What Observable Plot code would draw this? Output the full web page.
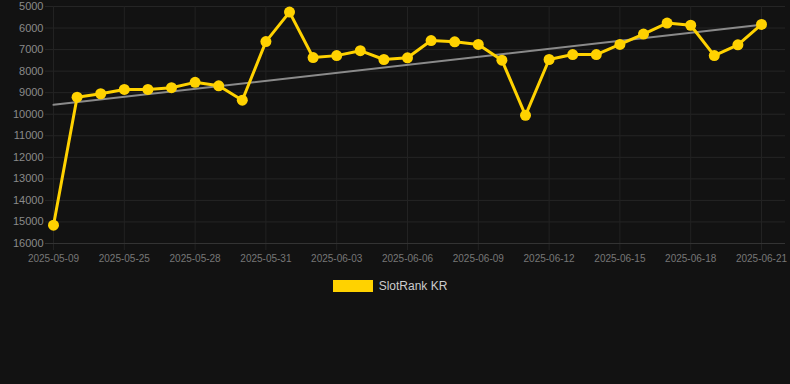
<!DOCTYPE html>
<html><head><meta charset="utf-8">
<script src="https://cdn.jsdelivr.net/npm/d3@7"></script>
<script src="https://cdn.jsdelivr.net/npm/@observablehq/plot@0.6"></script>
<style>
html,body{margin:0;background:#121212;font-family:"Liberation Sans",Arial,sans-serif;}
#legend{display:flex;align-items:center;justify-content:center;margin-top:9px;padding-right:10px;color:#cccccc;font-size:12px;}
#legend .sw{display:inline-block;width:40px;height:12px;background:#FFD200;margin-right:6px;}
</style></head><body>
<div id="chart"></div>
<div id="legend"><span class="sw"></span><span>SlotRank KR</span></div>
<script>
const dates = [
  "2025-05-09","2025-05-23","2025-05-24","2025-05-25","2025-05-26","2025-05-27","2025-05-28",
  "2025-05-29","2025-05-30","2025-05-31","2025-06-01","2025-06-02","2025-06-03","2025-06-04",
  "2025-06-05","2025-06-06","2025-06-07","2025-06-08","2025-06-09","2025-06-10","2025-06-11",
  "2025-06-12","2025-06-13","2025-06-14","2025-06-15","2025-06-16","2025-06-17","2025-06-18",
  "2025-06-19","2025-06-20","2025-06-21"
];
const ranks = [
  15150, 9210, 9050, 8850, 8850, 8770, 8520, 8680, 9350, 6630, 5260,
  7370, 7280, 7050, 7460, 7380, 6580, 6640, 6760, 7490, 10050,
  7460, 7230, 7230, 6760, 6280, 5770, 5870, 7280, 6780, 5830
];
const xTickLabels = ["2025-05-09","2025-05-25","2025-05-28","2025-05-31","2025-06-03","2025-06-06",
  "2025-06-09","2025-06-12","2025-06-15","2025-06-18","2025-06-21"];
const yTicks = [5000,6000,7000,8000,9000,10000,11000,12000,13000,14000,15000,16000];
const seriesName = "SlotRank KR";

const data = dates.map((d, i) => ({date: d, rank: ranks[i]}));

// linear regression trend over index
const n = ranks.length;
const mx = (n - 1) / 2;
const my = d3.mean(ranks);
let sxy = 0, sxx = 0;
ranks.forEach((v, i) => { sxy += (i - mx) * (v - my); sxx += (i - mx) ** 2; });
const slope = sxy / sxx;
const icpt = my - slope * mx;
const trend = [
  {date: dates[0], rank: icpt},
  {date: dates[n - 1], rank: icpt + slope * (n - 1)}
];

const gold = "#FFD200";
const chart = Plot.plot({
  width: 790,
  height: 270,
  marginTop: 6,
  marginBottom: 27,
  marginLeft: 53,
  marginRight: 29,
  style: {background: "#121212", fontFamily: "Liberation Sans, Arial, sans-serif", overflow: "visible"},
  x: {type: "point", domain: dates, padding: 0, round: false, axis: null, label: null},
  y: {domain: [5000, 16000], reverse: true, axis: null, label: null},
  marks: [
    Plot.ruleY(yTicks, {stroke: "#252525", strokeWidth: 1, insetLeft: -8, insetRight: -24}),
    Plot.ruleX(xTickLabels, {stroke: "#222222", strokeWidth: 1, insetBottom: -7}),
    Plot.ruleY([16000], {stroke: "#333333", strokeWidth: 1, insetLeft: -8, insetRight: -24}),
    Plot.axisY(yTicks, {tickSize: 0, tickPadding: 10, fontSize: 11, fill: "#8a8a8a", label: null, tickFormat: d => String(d)}),
    Plot.axisX(xTickLabels, {tickSize: 0, tickPadding: 11, fontSize: 10, fill: "#777777", label: null}),
    Plot.line(trend, {x: "date", y: "rank", stroke: "#8a8a8a", strokeWidth: 2}),
    Plot.line(data, {x: "date", y: "rank", stroke: gold, strokeWidth: 3}),
    Plot.dot(data, {x: "date", y: "rank", r: 5.5, fill: gold, stroke: "none"})
  ]
});
document.getElementById("chart").appendChild(chart);
document.querySelector("#legend span:last-child").textContent = seriesName;
</script>
</body></html>
